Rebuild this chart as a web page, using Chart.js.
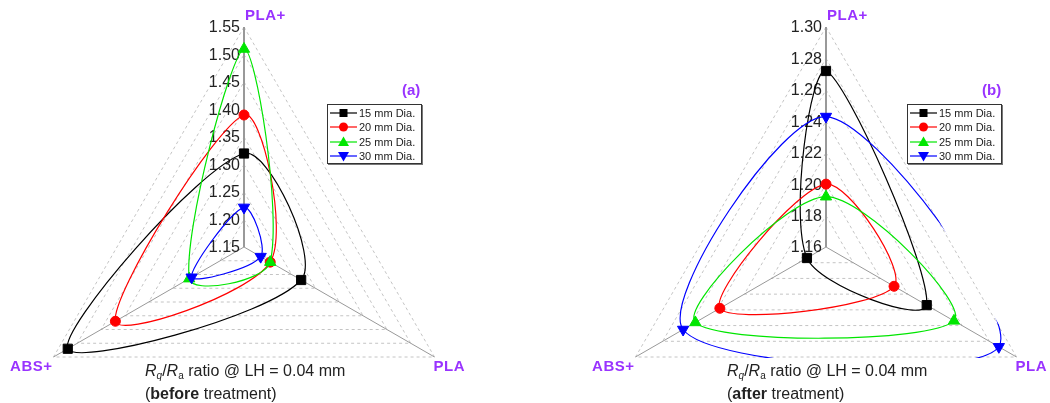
<!DOCTYPE html>
<html>
<head>
<meta charset="UTF-8">
<title>Rq/Ra ratio radar</title>
<script src="https://cdn.jsdelivr.net/npm/chart.js@4.4.0/dist/chart.umd.min.js"></script>
<style>
*{margin:0;padding:0;}
body{width:1050px;height:403px;overflow:hidden;background:#fff;position:relative;font-family:"Liberation Sans",Arial,sans-serif;}
canvas{position:absolute;top:0;}
#cvA{left:0;}
#cvB{left:560px;}
.tag{position:absolute;top:81px;color:#9933ff;font-weight:bold;font-size:15px;line-height:18px;}
.cap{position:absolute;top:359px;font-size:16px;color:#222;line-height:23px;white-space:nowrap;}
.cap sub{font-size:10px;vertical-align:-3px;line-height:0;}
.legend{position:absolute;top:104px;width:91px;height:57px;border:1px solid #333;box-shadow:1px 1px 0 #777;background:#fff;padding:1px 0 0 2px;font-size:11px;color:#222;}
.legend div{height:14.3px;display:flex;align-items:center;white-space:nowrap;}
.legend svg{margin-right:2px;}
</style>
</head>
<body>
<canvas id="cvA" width="490" height="494"></canvas>
<canvas id="cvB" width="490" height="494"></canvas>
<div class="tag" style="left:402px">(a)</div>
<div class="tag" style="left:982px">(b)</div>
<div class="legend" id="legA" style="left:327px"></div>
<div class="legend" id="legB" style="left:907px"></div>
<div class="cap" style="left:145px"><i>R</i><sub><i>q</i></sub>/<i>R</i><sub>a</sub> ratio @ LH = 0.04 mm<br>(<b>before</b> treatment)</div>
<div class="cap" style="left:727px"><i>R</i><sub><i>q</i></sub>/<i>R</i><sub>a</sub> ratio @ LH = 0.04 mm<br>(<b>after</b> treatment)</div>

<script>
// axes, clockwise from top
var axes = ["PLA+", "PLA", "ABS+"];
var series = ["15 mm Dia.", "20 mm Dia.", "25 mm Dia.", "30 mm Dia."];

// (a) before treatment
var before15 = [1.32, 1.27, 1.52];
var before20 = [1.39, 1.205, 1.42];
var before25 = [1.51, 1.205, 1.265];
var before30 = [1.222, 1.185, 1.26];

// (b) after treatment
var after15 = [1.272, 1.234, 1.174];
var after20 = [1.20, 1.21, 1.238];
var after25 = [1.192, 1.254, 1.256];
var after30 = [1.243, 1.287, 1.265];

var ticksA = ["1.15", "1.20", "1.25", "1.30", "1.35", "1.40", "1.45", "1.50", "1.55"];
var ticksB = ["1.16", "1.18", "1.20", "1.22", "1.24", "1.26", "1.28", "1.30"];

var colors = ["#000000", "#ff0000", "#00e600", "#0000ff"];
var markers = ["rect", "circle", "triangle", "triangle"];
var rotations = [0, 0, 0, 180];
var sizes = [6.5, 5, 6.5, 6.5];
var purple = "#9933ff";

function makeSets(lists){
	return lists.map(function(vals, i){
		return {
			label: series[i],
			data: vals,
			order: lists.length - 1 - i,
			borderColor: colors[i],
			backgroundColor: colors[i],
			borderWidth: 1.2,
			tension: 0.3,
			fill: false,
			pointStyle: markers[i],
			pointRotation: rotations[i],
			pointRadius: sizes[i],
			pointBorderWidth: 1,
			pointBorderColor: colors[i],
			pointBackgroundColor: colors[i]
		};
	});
}

// tick labels, axis labels and clipping of the curves to the outer triangle
var decor = {
	id: "decor",
	beforeDatasetsDraw: function(chart){
		var ctx = chart.ctx;
		var s = chart.scales.r;
		var tl = chart.options.plugins.decor.ticks;
		ctx.save();
		ctx.font = "16px 'Liberation Sans', Arial";
		ctx.fillStyle = "#222";
		ctx.textAlign = "right";
		ctx.textBaseline = "middle";
		tl.forEach(function(t){
			var d = s.getDistanceFromCenterForValue(parseFloat(t));
			ctx.fillText(t, s.xCenter - 4, s.yCenter - d + 1);
		});
		ctx.font = "bold 15px 'Liberation Sans', Arial";
		ctx.fillStyle = purple;
		ctx.letterSpacing = "0.5px";
		var p0 = s.getPointPosition(0, s.drawingArea);
		ctx.textAlign = "left";
		ctx.fillText(axes[0], p0.x + 1, p0.y - 11);
		var p1 = s.getPointPosition(1, s.drawingArea);
		ctx.fillText(axes[1], p1.x - 1, p1.y + 10);
		var p2 = s.getPointPosition(2, s.drawingArea);
		ctx.textAlign = "right";
		ctx.fillText(axes[2], p2.x - 1, p2.y + 10);
		ctx.restore();

		ctx.save();
		ctx.beginPath();
		for (var i = 0; i < axes.length; i++){
			var p = s.getPointPosition(i, s.drawingArea + 2);
			if (i == 0) ctx.moveTo(p.x, p.y); else ctx.lineTo(p.x, p.y);
		}
		ctx.closePath();
		ctx.clip();
	},
	afterDatasetsDraw: function(chart){
		chart.ctx.restore();
	}
};

function makeChart(id, lists, min, max, step, tl, padLeft, padRight){
	return new Chart(document.getElementById(id), {
		type: "radar",
		data: { labels: axes, datasets: makeSets(lists) },
		options: {
			responsive: false,
			animation: false,
			layout: { padding: { left: padLeft, right: padRight, top: 27, bottom: 27 } },
			plugins: { legend: { display: false }, tooltip: { enabled: false }, decor: { ticks: tl } },
			scales: {
				r: {
					min: min,
					max: max,
					ticks: { display: false, stepSize: step },
					pointLabels: { display: false },
					grid: { color: "#c4c4c4", lineWidth: 1 },
					border: { dash: [3, 3] },
					angleLines: {
						color: "#999",
						lineWidth: function(c){ return c.index == 0 ? 2 : 1; }
					}
				}
			}
		},
		plugins: [decor]
	});
}

makeChart("cvA", [before15, before20, before25, before30], 1.15, 1.55, 0.05, ticksA, 24, 26);
makeChart("cvB", [after15, after20, after25, after30], 1.16, 1.30, 0.02, ticksB, 46, 4);

// legends
function markerSvg(i){
	var c = colors[i], m = "";
	if (markers[i] == "rect") m = '<rect x="9.5" y="2" width="8" height="8" fill="' + c + '"/>';
	else if (markers[i] == "circle") m = '<circle cx="13.5" cy="6" r="4.5" fill="' + c + '"/>';
	else if (rotations[i] == 0) m = '<polygon points="13.5,0.5 19,10 8,10" fill="' + c + '"/>';
	else m = '<polygon points="13.5,11.5 19,2 8,2" fill="' + c + '"/>';
	return '<svg width="27" height="12"><line x1="0" y1="6" x2="27" y2="6" stroke="' + c + '" stroke-width="1.2"/>' + m + '</svg>';
}
["legA", "legB"].forEach(function(id){
	var html = "";
	series.forEach(function(s, i){
		html += "<div>" + markerSvg(i) + "<span>" + s + "</span></div>";
	});
	document.getElementById(id).innerHTML = html;
});
</script>
</body>
</html>
